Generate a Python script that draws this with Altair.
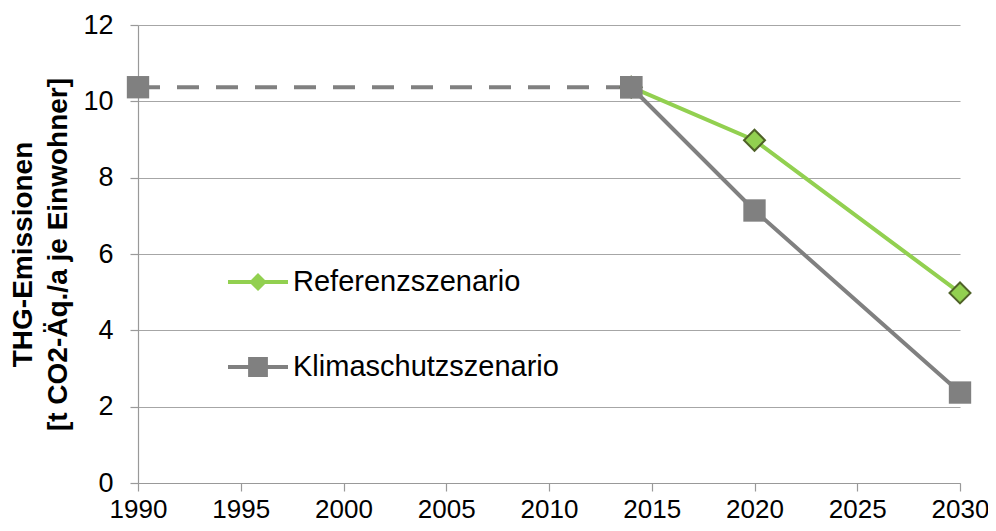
import altair as alt
import pandas as pd

# ---- data ----
hist_years = [1990, 2014]
hist_values = [10.37, 10.37]
scen_years = [2014, 2020, 2030]
ref_values = [10.37, 8.98, 4.98]
klima_values = [10.37, 7.14, 2.37]
series_names = ["Referenzszenario", "Klimaschutzszenario"]
x_ticks = [1990, 1995, 2000, 2005, 2010, 2015, 2020, 2025, 2030]
y_ticks = [0, 2, 4, 6, 8, 10, 12]

rows = []
for yr, v in zip(hist_years, hist_values):
    rows.append({"series": "Historisch", "year": yr, "value": v})
for yr, v in zip(scen_years, ref_values):
    rows.append({"series": series_names[0], "year": yr, "value": v})
for yr, v in zip(scen_years, klima_values):
    rows.append({"series": series_names[1], "year": yr, "value": v})
df = pd.DataFrame(rows)

GREEN = "#92d050"
GREEN_DARK = "#4f6228"
GRAY = "#808080"
FONT = "Liberation Sans"

base = alt.Chart(df).encode(
    x=alt.X("year:Q",
            scale=alt.Scale(domain=[1990, 2030], nice=False, zero=False),
            axis=alt.Axis(values=x_ticks, format="d", title=None, grid=False,
                          labelFontSize=26, labelPadding=5, tickSize=8,
                          labelFlush=False)),
    y=alt.Y("value:Q",
            scale=alt.Scale(domain=[0, 12], nice=False),
            axis=alt.Axis(values=y_ticks, grid=True, tickSize=8, labelFontSize=27,
                          labelPadding=17,
                          title=["THG-Emissionen", "[t CO2-Äq./a je Einwohner]"],
                          titleFontSize=28, titleFontWeight="bold",
                          titleAngle=270, titleBaseline="top", titleAlign="center",
                          titleX=-129, titleY=229, titleLineHeight=35)),
)

green_line = base.transform_filter(alt.datum.series == series_names[0]).mark_line(
    color=GREEN, strokeWidth=4)
gray_line = base.transform_filter(alt.datum.series == series_names[1]).mark_line(
    color=GRAY, strokeWidth=4)
dash_line = base.transform_filter(alt.datum.series == "Historisch").mark_line(
    color=GRAY, strokeWidth=4, strokeDash=[22, 17])
diamonds = base.transform_filter(alt.datum.series == series_names[0]).mark_point(
    shape="diamond", filled=True, fill=GREEN, stroke=GREEN_DARK, strokeWidth=2,
    size=440, opacity=1)
squares = base.transform_filter(
    (alt.datum.series == series_names[1]) | (alt.datum.series == "Historisch")
).mark_point(shape="square", filled=True, color=GRAY, size=500, opacity=1)

diamond_path = "M-1,-0.067H1V0.067H-1Z M0,-0.3L0.3,0L0,0.3L-0.3,0Z"
square_path = "M-1,-0.067H1V0.067H-1Z M-0.33,-0.33H0.33V0.33H-0.33Z"

legend_cfg = dict(orient="none", legendX=90, legendY=227,
                  title=None, symbolSize=3600,
                  symbolOpacity=1, symbolStrokeWidth=0,
                  rowPadding=40, labelOffset=5, padding=0,
                  labelFontSize=29, labelFont=FONT,
                  labelColor="black", labelLimit=400)

legend_layer = base.transform_filter(
    alt.FieldOneOfPredicate(field="series", oneOf=series_names)
).mark_point(filled=True, opacity=0).encode(
    color=alt.Color("series:N",
                    scale=alt.Scale(domain=series_names, range=[GREEN, GRAY]),
                    legend=alt.Legend(**legend_cfg)),
    shape=alt.Shape("series:N",
                    scale=alt.Scale(domain=series_names,
                                    range=[diamond_path, square_path]),
                    legend=alt.Legend(**legend_cfg)),
)

chart = alt.layer(
    green_line, gray_line, dash_line, diamonds, squares, legend_layer
).properties(
    width=822, height=458,
    autosize=alt.AutoSizeParams(type="none"),
    padding={"left": 130, "top": 17, "right": 28, "bottom": 40},
).configure_view(stroke=None).configure_axis(
    labelFont=FONT, titleFont=FONT, labelColor="black", titleColor="black",
    domainColor="#999999", tickColor="#999999", gridColor="#a6a6a6",
    domainWidth=1.2, tickWidth=1.2, gridWidth=1.2,
)

chart.save("out.html", embed_options={"renderer": "svg", "actions": False})
